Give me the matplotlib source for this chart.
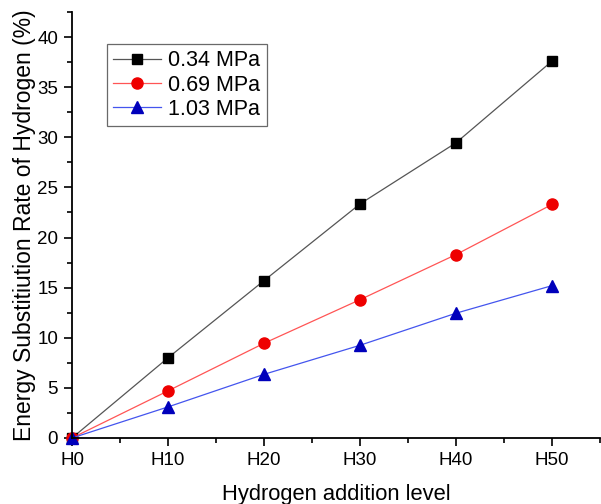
import matplotlib as mpl
mpl.use('Agg')
import matplotlib.pyplot as plt
from matplotlib.ticker import MultipleLocator

plt.rcParams['font.family'] = ['Liberation Sans', 'DejaVu Sans']

levels = [0, 10, 20, 30, 40, 50]
level_labels = ['H0', 'H10', 'H20', 'H30', 'H40', 'H50']
esr_034 = [0, 8.0, 15.7, 23.35, 29.45, 37.6]
esr_069 = [0, 4.7, 9.45, 13.8, 18.3, 23.3]
esr_103 = [0, 3.1, 6.35, 9.25, 12.45, 15.2]

fig = plt.figure(figsize=(6.01, 5.04), dpi=100)
ax = fig.add_axes([72 / 601, 66 / 504, 528 / 601, 426 / 504])

ax.plot(levels, esr_034, color='#555555', lw=0.9, marker='s', ms=7.5,
        mfc='black', mec='black', label='0.34 MPa', clip_on=False)
ax.plot(levels, esr_069, color='#ff5555', lw=0.9, marker='o', ms=8,
        mfc='#ee0000', mec='#ee0000', label='0.69 MPa', clip_on=False)
ax.plot(levels, esr_103, color='#4455ee', lw=0.9, marker='^', ms=8.5,
        mfc='#0000bb', mec='#0000bb', label='1.03 MPa', clip_on=False)

ax.set_xlim(0, 55)
ax.set_ylim(0, 42.5)
ax.set_xticks(levels)
ax.set_xticklabels(level_labels)
ax.xaxis.set_minor_locator(MultipleLocator(5))
ax.yaxis.set_major_locator(MultipleLocator(5))
ax.yaxis.set_minor_locator(MultipleLocator(2.5))
ax.tick_params(which='major', direction='out', length=6, width=1.2,
               labelsize=13.5, pad=4)
ax.tick_params(which='minor', direction='out', length=3.5, width=1.2)
for s in ['top', 'right']:
    ax.spines[s].set_visible(False)
for s in ['left', 'bottom']:
    ax.spines[s].set_linewidth(1.3)

ax.set_xlabel('Hydrogen addition level', fontsize=15.8, labelpad=11)
ax.set_ylabel('Energy Substitiution Rate of Hydrogen (%)', fontsize=16.5, labelpad=1)

leg = ax.legend(loc='upper left', bbox_to_anchor=(0.066, 0.925), fontsize=15.5,
                frameon=True, fancybox=False, handlelength=2.2,
                handletextpad=0.35, borderpad=0.3, labelspacing=0.15,
                borderaxespad=0)
leg.get_frame().set_edgecolor('#444444')
leg.get_frame().set_linewidth(0.9)

fig.savefig('out.png', dpi=100)
